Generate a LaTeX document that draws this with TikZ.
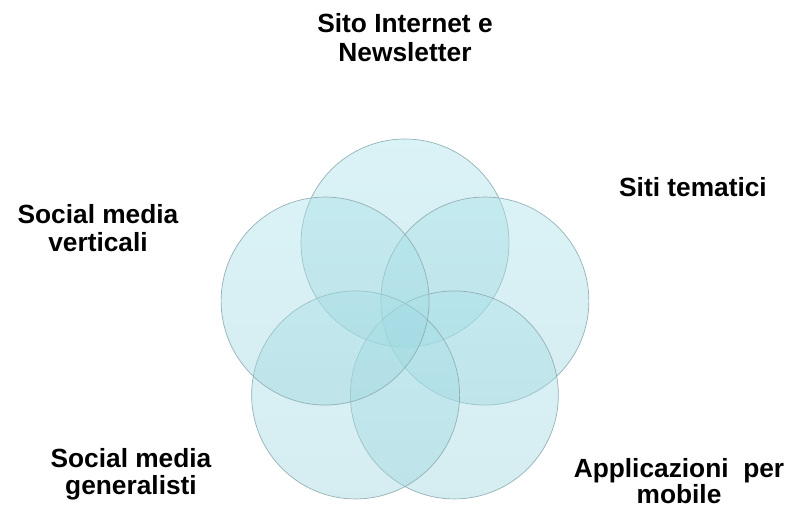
\documentclass[tikz,border=0pt]{standalone}
\usepackage{fontspec}
\setmainfont{Liberation Sans}
\usepackage{tikz}
\usetikzlibrary{positioning}

\definecolor{bubbletop}{RGB}{168,226,234}
\definecolor{bubblebot}{RGB}{156,212,220}
\definecolor{bubbleedge}{RGB}{140,170,176}

\begin{document}
\begin{tikzpicture}[x=1pt,y=1pt,
  bubble/.style={circle,draw=bubbleedge,line width=0.7pt,minimum size=208pt,inner sep=0pt,
    top color=bubbletop,bottom color=bubblebot,fill opacity=0.42,draw opacity=0.9},
  lbl/.style={font=\fontsize{26.3}{28}\selectfont\bfseries,align=center,anchor=base}]
  \useasboundingbox (-405,-181) rectangle (387,327);
  % the five circles round the centre
  \node[bubble] (sito) at (90:84) {};
  \node[bubble] (siti) at (18:84) {};
  \node[bubble] (mobile) at (306:84) {};
  \node[bubble] (generalisti) at (234:84) {};
  \node[bubble] (verticali) at (162:84) {};
  % labels (base = baseline of the last line)
  \node[lbl,font=\fontsize{26.3}{29}\selectfont\bfseries] (lsito) at (0,265) {Sito Internet e\\Newsletter};
  \node[lbl] (lsiti) at (288,130) {Siti tematici};
  \node[lbl,font=\fontsize{26.3}{20.5}\selectfont\bfseries] (lmobile) at (274,-176) {Applicazioni~ per\\mobile};
  \node[lbl,font=\fontsize{26.3}{26.5}\selectfont\bfseries] (lgeneralisti) at (-274,-167) {Social media\\generalisti};
  \node[lbl] (lverticali) at (-307,75) {Social media\\verticali};
\end{tikzpicture}
\end{document}
